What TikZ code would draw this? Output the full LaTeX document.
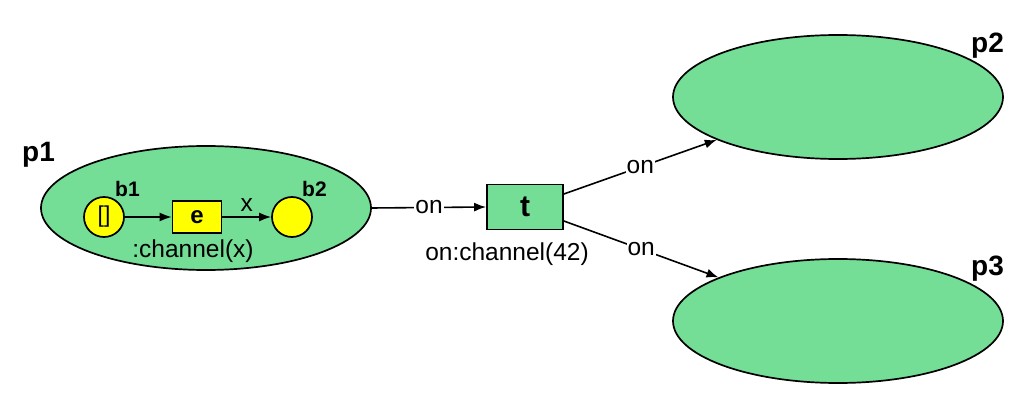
\documentclass[tikz,border=0pt]{standalone}
\usepackage{fontspec}
\setmainfont{Liberation Sans}
\usetikzlibrary{shapes.geometric,arrows.meta}
\definecolor{placegreen}{RGB}{116,221,150}
\definecolor{tokyellow}{RGB}{255,255,0}
\tikzset{
  place/.style={ellipse,draw=black,line width=1.7pt,fill=placegreen,minimum width=330pt,minimum height=124pt,inner sep=0pt},
  inplace/.style={circle,draw=black,line width=1.7pt,fill=tokyellow,minimum size=40pt,inner sep=0pt,font=\fontsize{23}{23}\selectfont},
  trans/.style={rectangle,draw=black,line width=1.7pt,inner sep=0pt},
  conn/.style={line width=1.6pt,-{Latex[length=12pt,width=9pt]}},
  bigname/.style={font=\fontsize{28}{28}\selectfont\bfseries,inner sep=0pt,anchor=base west},
  smallname/.style={font=\fontsize{21}{21}\selectfont\bfseries,inner sep=0pt,anchor=base west},
  lbl/.style={font=\fontsize{24.5}{24.5}\selectfont,inner sep=0pt},
  onlbl/.style={font=\fontsize{24.5}{24.5}\selectfont,fill=white,inner sep=1pt}
}
\begin{document}
\begin{tikzpicture}[x=1pt,y=-1pt]
\useasboundingbox (0,0) rectangle (1031,406);
% places
\node[place] (p1) at (206,208) {};
\node[place] (p2) at (838,97) {};
\node[place] (p3) at (838,321) {};
% inner net
\node[inplace] (b1) at (104,217) {[]};
\node[inplace] (b2) at (292,217) {};
\node[trans,fill=tokyellow,minimum width=49pt,minimum height=32pt,font=\fontsize{24}{24}\selectfont\bfseries] (e) at (197,217) {e};
\node[trans,fill=placegreen,minimum width=76pt,minimum height=45pt,font=\fontsize{30}{30}\selectfont\bfseries] (t) at (525,207) {t};
% names
\node[bigname] (p1n) at (22,162) {p1};
\node[bigname] (p2n) at (971,53) {p2};
\node[bigname] (p3n) at (971,276) {p3};
\node[smallname] (b1n) at (115,197) {b1};
\node[smallname] (b2n) at (302,197) {b2};
% connectors
\draw[conn] (b1) -- (e);
\draw[conn] (e) -- node[lbl,above=5pt] (xl) {x} (b2);
\draw[conn] (p1.east) -- node[onlbl] (on1) {on} (t.west);
\draw[conn] ([yshift=13pt]t.east) -- node[onlbl] (on2) {on} (p2);
\draw[conn] ([yshift=-14pt]t.east) -- node[onlbl] (on3) {on} (p3);
% inscriptions
\node[lbl,anchor=base] (ch) at (193,258) {:channel(x)};
\node[lbl,anchor=base] (ch42) at (507,261) {on:channel(42)};
\end{tikzpicture}
\end{document}
